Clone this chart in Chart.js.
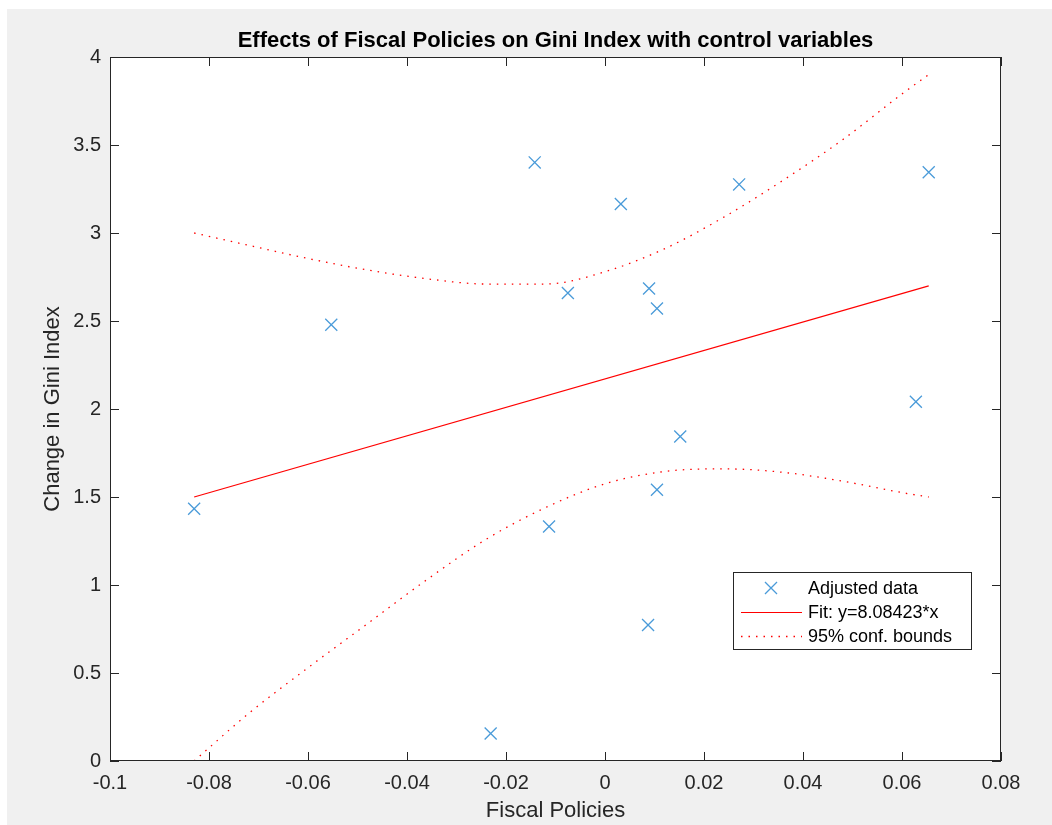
<!DOCTYPE html>
<html>
<head>
<meta charset="utf-8">
<title>Effects of Fiscal Policies on Gini Index</title>
<script src="https://cdn.jsdelivr.net/npm/chart.js@4.4.1/dist/chart.umd.min.js"></script>
<style>
    html, body { margin: 0; padding: 0; background: #fff; }
    #wrap { width: 1052px; height: 825px; }
</style>
</head>
<body>
<div id="wrap"><canvas id="giniChart" width="1052" height="825"></canvas></div>
<script>
// adjusted data
const dataX = [-0.0830, -0.0553, -0.0142, -0.0231, -0.0113, -0.0075, 0.0032, 0.0089, 0.0105, 0.0087, 0.0105, 0.0152, 0.0271, 0.0628, 0.0654];
const dataY = [1.433, 2.479, 3.401, 0.156, 1.332, 2.659, 3.165, 2.685, 2.571, 0.773, 1.541, 1.844, 3.276, 2.041, 3.345];

// fitted line end points
const fitX = [-0.0830, 0.0654];
const fitY = [1.50, 2.70];

// 95% confidence bounds
const boundX = [-0.0830, -0.072, -0.060, -0.048, -0.036, -0.024, -0.012, 0.000, 0.012, 0.024, 0.036, 0.048, 0.060, 0.0654];
const upperY = [3.00, 2.93, 2.855, 2.79, 2.74, 2.71, 2.71, 2.78, 2.91, 3.09, 3.30, 3.53, 3.79, 3.90];
const lowerY = [0.00, 0.27, 0.53, 0.78, 1.03, 1.26, 1.44, 1.575, 1.645, 1.66, 1.64, 1.59, 1.525, 1.50];

const xTicks = [-0.1, -0.08, -0.06, -0.04, -0.02, 0, 0.02, 0.04, 0.06, 0.08];
const yTicks = [0, 0.5, 1, 1.5, 2, 2.5, 3, 3.5, 4];

const chartTitle = 'Effects of Fiscal Policies on Gini Index with control variables';

const AXIS_COLOR = '#262626';
const FONT = '"Liberation Sans", Arial, Helvetica, sans-serif';
const MARKER_COLOR = '#4a9bd9';
const DOTS = [1.5, 6];

const toPoints = (xs, ys) => xs.map((x, i) => ({ x, y: ys[i] }));

// grey figure background, white axes, title centred over the axes
const figureBackground = {
    id: 'figureBackground',
    beforeDraw(chart) {
        const { ctx, width, height, chartArea: a } = chart;
        ctx.save();
        ctx.fillStyle = '#f0f0f0';
        ctx.fillRect(7, 9, width - 7, height - 9);
        ctx.fillStyle = '#fff';
        ctx.fillRect(a.left, a.top, a.right - a.left, a.bottom - a.top);
        ctx.fillStyle = '#000';
        ctx.font = `bold 22px ${FONT}`;
        ctx.textAlign = 'center';
        ctx.textBaseline = 'middle';
        ctx.fillText(chartTitle, (a.left + a.right) / 2, a.top - 16);
        ctx.restore();
    },
};

// box around axes with inward ticks on all four sides
const axesBox = {
    id: 'axesBox',
    afterDatasetsDraw(chart) {
        const { ctx, chartArea: a, scales } = chart;
        const len = 9;
        ctx.save();
        ctx.strokeStyle = AXIS_COLOR;
        ctx.lineWidth = 1;
        ctx.strokeRect(a.left + 0.5, a.top + 0.5, a.right - a.left - 1, a.bottom - a.top - 1);
        ctx.beginPath();
        xTicks.forEach((v) => {
            const px = Math.round(scales.x.getPixelForValue(v)) + 0.5;
            ctx.moveTo(px, a.bottom);
            ctx.lineTo(px, a.bottom - len);
            ctx.moveTo(px, a.top);
            ctx.lineTo(px, a.top + len);
        });
        yTicks.forEach((v) => {
            const py = Math.round(scales.y.getPixelForValue(v)) + 0.5;
            ctx.moveTo(a.left, py);
            ctx.lineTo(a.left + len, py);
            ctx.moveTo(a.right, py);
            ctx.lineTo(a.right - len, py);
        });
        ctx.stroke();
        ctx.restore();
    },
};

// legend box inside the axes, lower right
const boxLegend = {
    id: 'boxLegend',
    afterDraw(chart) {
        const { ctx, chartArea: a } = chart;
        const w = 238;
        const h = 77;
        const x0 = a.right - 30 - w;
        const y0 = a.bottom - 112 - h;
        const entries = chart.data.datasets.filter((ds) => !ds.skipLegend);

        ctx.save();
        ctx.fillStyle = '#fff';
        ctx.fillRect(x0, y0, w, h);
        ctx.strokeStyle = AXIS_COLOR;
        ctx.lineWidth = 1;
        ctx.strokeRect(x0 + 0.5, y0 + 0.5, w, h);

        entries.forEach((ds, i) => {
            const cy = y0 + 16 + i * 24;
            ctx.strokeStyle = ds.borderColor;
            ctx.lineWidth = ds.borderWidth || 1;
            if (ds.showLine) {
                ctx.setLineDash(ds.borderDash || []);
                ctx.beginPath();
                ctx.moveTo(x0 + 8, cy + 0.5);
                ctx.lineTo(x0 + 69, cy + 0.5);
                ctx.stroke();
                ctx.setLineDash([]);
            } else {
                const r = ds.pointRadius * Math.SQRT1_2;
                const mx = x0 + 38;
                ctx.lineWidth = ds.pointBorderWidth;
                ctx.beginPath();
                ctx.moveTo(mx - r, cy - r);
                ctx.lineTo(mx + r, cy + r);
                ctx.moveTo(mx - r, cy + r);
                ctx.lineTo(mx + r, cy - r);
                ctx.stroke();
            }
            ctx.fillStyle = '#000';
            ctx.font = `18px ${FONT}`;
            ctx.textBaseline = 'middle';
            ctx.fillText(ds.label, x0 + 75, cy + 1);
        });
        ctx.restore();
    },
};

function axisTicks(list) {
    return (scale) => {
        scale.ticks = list.map((v) => ({ value: v }));
    };
}

const tickFont = { family: FONT, size: 20 };
const labelFont = { family: FONT, size: 22 };

const ctx = document.getElementById('giniChart');
new Chart(ctx, {
    type: 'scatter',
    data: {
        datasets: [
            {
                label: 'Adjusted data',
                data: toPoints(dataX, dataY),
                showLine: false,
                pointStyle: 'crossRot',
                pointRadius: 8.5,
                pointBorderWidth: 1.3,
                borderColor: MARKER_COLOR,
                backgroundColor: MARKER_COLOR,
                borderWidth: 1.3,
            },
            {
                label: 'Fit: y=8.08423*x',
                data: toPoints(fitX, fitY),
                showLine: true,
                pointRadius: 0,
                borderColor: '#ff0000',
                borderWidth: 1.2,
            },
            {
                label: '95% conf. bounds',
                data: toPoints(boundX, upperY),
                showLine: true,
                pointRadius: 0,
                borderColor: '#ff0000',
                borderWidth: 1.3,
                borderDash: DOTS,
                cubicInterpolationMode: 'monotone',
            },
            {
                label: '95% conf. bounds',
                data: toPoints(boundX, lowerY),
                showLine: true,
                pointRadius: 0,
                borderColor: '#ff0000',
                borderWidth: 1.3,
                borderDash: DOTS,
                cubicInterpolationMode: 'monotone',
                skipLegend: true,
            },
        ],
    },
    options: {
        responsive: false,
        animation: false,
        events: [],
        layout: { padding: { top: 57, right: 51, bottom: 0, left: 0 } },
        plugins: {
            legend: { display: false },
            tooltip: { enabled: false },
            title: { display: false },
        },
        scales: {
            x: {
                type: 'linear',
                min: -0.1,
                max: 0.08,
                afterBuildTicks: axisTicks(xTicks),
                afterFit: (scale) => { scale.height = 64; },
                grid: { display: false, drawTicks: false },
                border: { display: false },
                ticks: {
                    autoSkip: false,
                    maxRotation: 0,
                    padding: 10,
                    color: AXIS_COLOR,
                    font: tickFont,
                    callback: (v) => String(v),
                },
                title: {
                    display: true,
                    text: 'Fiscal Policies',
                    color: AXIS_COLOR,
                    font: labelFont,
                    padding: { top: 0, bottom: 1 },
                },
            },
            y: {
                type: 'linear',
                min: 0,
                max: 4,
                afterBuildTicks: axisTicks(yTicks),
                afterFit: (scale) => { scale.width = 110; },
                grid: { display: false, drawTicks: false },
                border: { display: false },
                ticks: {
                    autoSkip: false,
                    padding: 9,
                    color: AXIS_COLOR,
                    font: tickFont,
                    callback: (v) => String(v),
                },
                title: {
                    display: true,
                    text: 'Change in Gini Index',
                    color: AXIS_COLOR,
                    font: labelFont,
                    padding: { top: 40, bottom: 0 },
                },
            },
        },
    },
    plugins: [figureBackground, axesBox, boxLegend],
});
</script>
</body>
</html>
